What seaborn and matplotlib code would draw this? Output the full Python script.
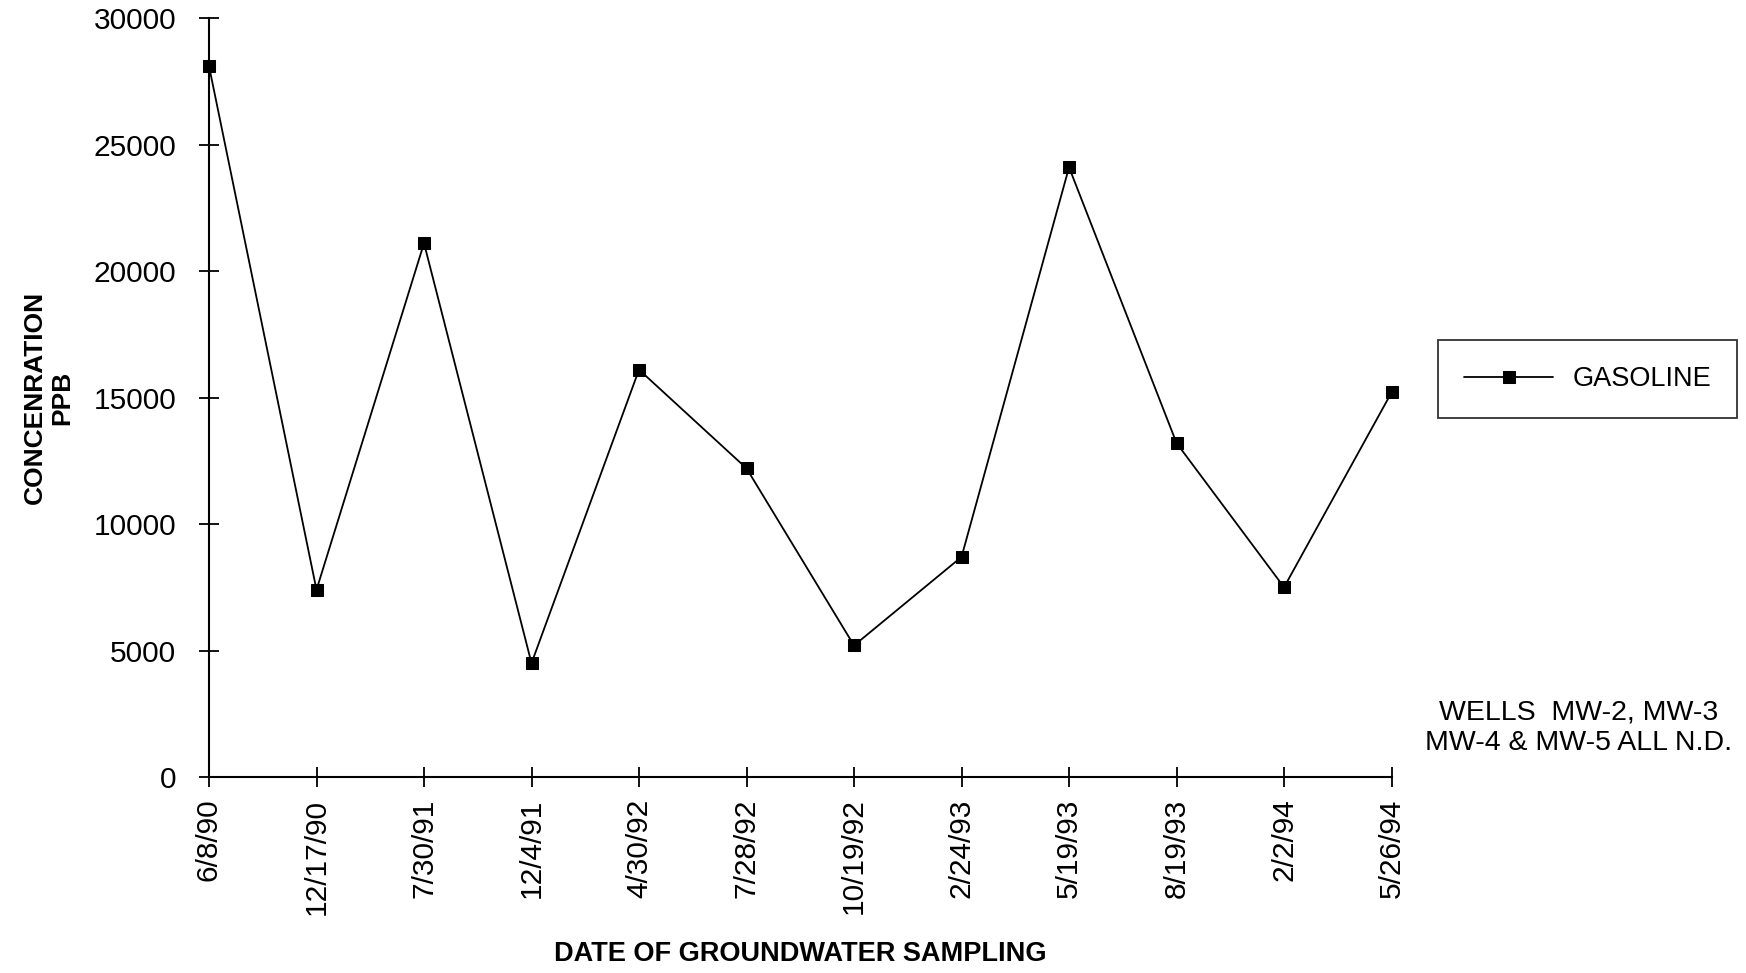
import numpy as np
import pandas as pd
import matplotlib
matplotlib.use("Agg")
import matplotlib.pyplot as plt
import seaborn as sns

sns.set_style("white")
plt.rcParams['font.family'] = ['Liberation Sans', 'DejaVu Sans']
plt.rcParams['text.color'] = 'black'

# Data
dates = ['6/8/90', '12/17/90', '7/30/91', '12/4/91', '4/30/92', '7/28/92',
         '10/19/92', '2/24/93', '5/19/93', '8/19/93', '2/2/94', '5/26/94']
gasoline = [28100, 7400, 21100, 4500, 16100, 12200,
            5200, 8700, 24100, 13200, 7500, 15200]
y_ticks = [0, 5000, 10000, 15000, 20000, 25000, 30000]

df = pd.DataFrame({'date': dates, 'GASOLINE': gasoline})

fig = plt.figure(figsize=(17.46, 9.73), dpi=100)
ax = fig.add_axes([0.1197, 0.2014, 0.797 - 0.1197, 0.9815 - 0.2014])

sns.lineplot(data=df, x='date', y='GASOLINE', sort=False, ax=ax,
             color='black', linewidth=1.3, marker='s', markersize=8,
             markeredgecolor='black', label='GASOLINE')
for line in ax.lines:
    line.set_clip_on(False)
    line.set_zorder(5)

ax.set_xlim(0, len(dates) - 1)
ax.set_ylim(0, 30000)
ax.set_yticks(y_ticks)
ax.set_yticklabels([str(v) for v in y_ticks], fontsize=21.5)
ax.set_xticks(range(len(dates)))
ax.set_xticklabels(dates, rotation=90, fontsize=21.5)

for s in ['top', 'right']:
    ax.spines[s].set_visible(False)
for s in ['left', 'bottom']:
    ax.spines[s].set_color('black')
    ax.spines[s].set_linewidth(1.5)
ax.tick_params(axis='both', direction='inout', length=15, width=1.3,
               colors='black', bottom=True, left=True)
ax.tick_params(axis='x', pad=8)
ax.tick_params(axis='y', pad=16)

ax.set_xlabel('DATE OF GROUNDWATER SAMPLING', fontsize=19.5,
              fontweight='bold', color='black', labelpad=19)
ax.set_ylabel('CONCENRATION\nPPB', fontsize=19, fontweight='bold',
              color='black')
ax.yaxis.set_label_coords(-0.114, 0.5)

leg = ax.legend(loc='center', bbox_to_anchor=(0.9092, 0.6105),
                bbox_transform=fig.transFigure, fontsize=19.5, frameon=True,
                fancybox=False, handlelength=3.3, borderpad=0.95,
                handletextpad=0.7, borderaxespad=0)
leg.get_frame().set_edgecolor('black')
leg.get_frame().set_linewidth(1.3)
for t in leg.get_texts():
    t.set_color('black')

fig.text(0.904, 0.2523, 'WELLS  MW-2, MW-3\nMW-4 & MW-5 ALL N.D.',
         ha='center', va='center', fontsize=20.5, linespacing=1.2,
         color='black')

fig.savefig('out.png', dpi=100, facecolor='white')
